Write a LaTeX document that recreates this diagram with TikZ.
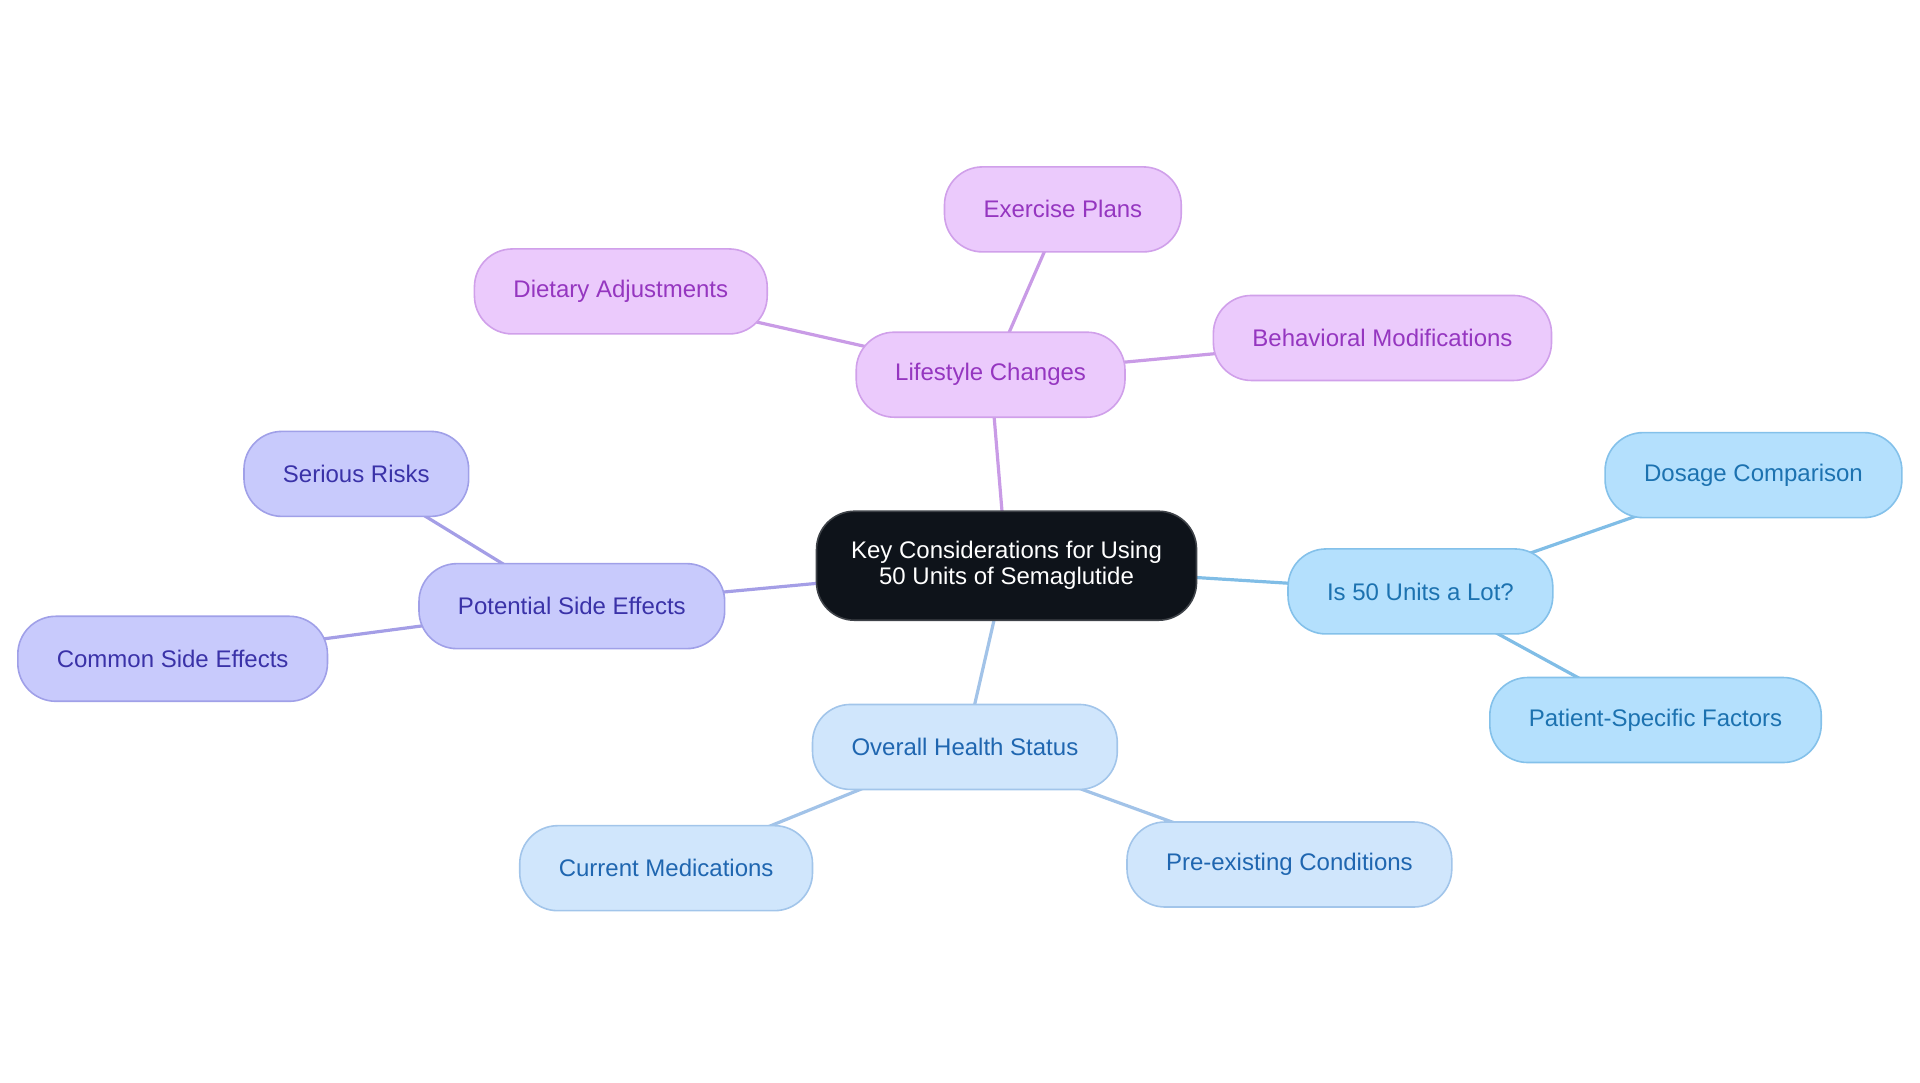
\documentclass[tikz,border=0pt]{standalone}
\usepackage{fontspec}
\setmainfont{Liberation Sans}
\usetikzlibrary{backgrounds}
\definecolor{rootfill}{HTML}{0E131A}
\definecolor{lsfill}{HTML}{EBCAFC}\definecolor{lsdraw}{HTML}{D0A0EA}\definecolor{lstext}{HTML}{9536C0}\definecolor{lsline}{HTML}{C99BE6}
\definecolor{sefill}{HTML}{C8CAFC}\definecolor{sedraw}{HTML}{A0A0E8}\definecolor{setext}{HTML}{3A32A8}\definecolor{seline}{HTML}{A49EE6}
\definecolor{ulfill}{HTML}{B4E0FD}\definecolor{uldraw}{HTML}{84C1EA}\definecolor{ultext}{HTML}{1C72B0}\definecolor{ulline}{HTML}{80BDE6}
\definecolor{hsfill}{HTML}{D0E6FC}\definecolor{hsdraw}{HTML}{A2C5EA}\definecolor{hstext}{HTML}{1F66B0}\definecolor{hsline}{HTML}{A2C3E8}
\begin{document}
\begin{tikzpicture}[x=0.61225pt, y=-0.61225pt,
    topic/.style={rounded corners=19pt, minimum height=42.5pt, inner xsep=19.5pt, line width=0.8pt, font=\fontsize{12}{13}\selectfont},
    ls/.style={topic, fill=lsfill, draw=lsdraw, text=lstext},
    se/.style={topic, fill=sefill, draw=sedraw, text=setext},
    ul/.style={topic, fill=ulfill, draw=uldraw, text=ultext},
    hs/.style={topic, fill=hsfill, draw=hsdraw, text=hstext},
    link/.style={line width=1.6pt}]
  \useasboundingbox (0,0) rectangle (1568,884.4);
  \node (root) [topic, fill=rootfill, draw=rootfill!80!white, text=white, inner xsep=12pt, minimum width=190pt, minimum height=54.5pt, align=center] at (822,462) {Key Considerations for Using\\50 Units of Semaglutide};
  % lifestyle
  \node (life) [ls] at (809,306) {Lifestyle Changes};
  \node (exer) [ls] at (868,171) {Exercise Plans};
  \node (diet) [ls] at (507,238) {Dietary Adjustments};
  \node (behav) [ls] at (1129,276) {Behavioral Modifications};
  % side effects
  \node (side) [se] at (467,495) {Potential Side Effects};
  \node (risk) [se] at (291,387) {Serious Risks};
  \node (common) [se] at (141,538) {Common Side Effects};
  % dose
  \node (lot) [ul] at (1160,483) {Is 50 Units a Lot?};
  \node (dose) [ul] at (1432,388) {Dosage Comparison};
  \node (patient) [ul] at (1352,588) {Patient-Specific Factors};
  % health
  \node (health) [hs] at (788,610) {Overall Health Status};
  \node (meds) [hs] at (544,709) {Current Medications};
  \node (cond) [hs] at (1053,706) {Pre-existing Conditions};
  \begin{scope}[on background layer]
    \draw[link, lsline] (root.center) -- (life.center)
      (life.center) -- (exer.center) (life.center) -- (diet.center) (life.center) -- (behav.center);
    \draw[link, seline] (root.center) -- (side.center)
      (side.center) -- (risk.center) (side.center) -- (common.center);
    \draw[link, ulline] (root.center) -- (lot.center)
      (lot.center) -- (dose.center) (lot.center) -- (patient.center);
    \draw[link, hsline] (root.center) -- (health.center)
      (health.center) -- (meds.center) (health.center) -- (cond.center);
  \end{scope}
\end{tikzpicture}
\end{document}
